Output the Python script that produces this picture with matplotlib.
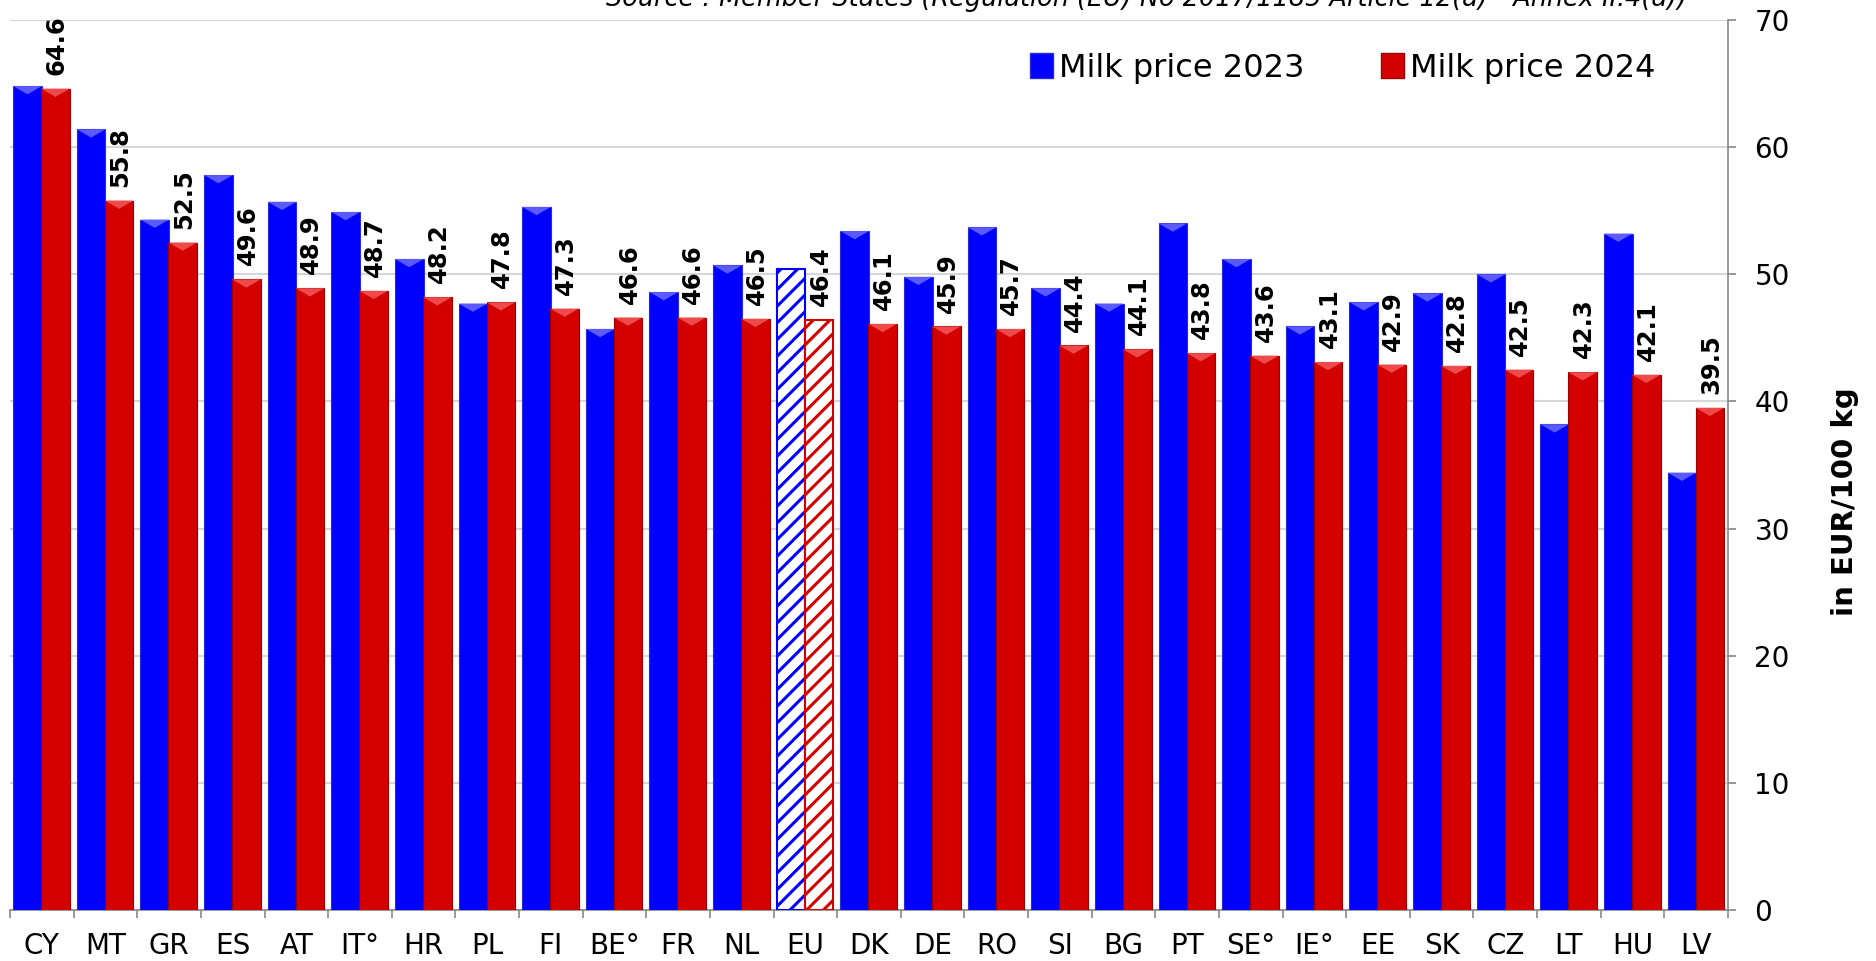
import matplotlib.pyplot as plt
from matplotlib.patches import Patch, Polygon
import numpy as np

# Data (EUR/100 kg)
countries = ["CY", "MT", "GR", "ES", "AT", "IT°", "HR", "PL", "FI", "BE°", "FR", "NL", "EU",
             "DK", "DE", "RO", "SI", "BG", "PT", "SE°", "IE°", "EE", "SK", "CZ", "LT", "HU", "LV"]
price_2023 = [64.8, 61.4, 54.3, 57.8, 55.7, 54.9, 51.2, 47.7, 55.3, 45.7, 48.6, 50.7, 50.4,
              53.4, 49.8, 53.7, 48.9, 47.7, 54.0, 51.2, 45.9, 47.8, 48.5, 50.0, 38.2, 53.2, 34.4]
price_2024 = [64.6, 55.8, 52.5, 49.6, 48.9, 48.7, 48.2, 47.8, 47.3, 46.6, 46.6, 46.5, 46.4,
              46.1, 45.9, 45.7, 44.4, 44.1, 43.8, 43.6, 43.1, 42.9, 42.8, 42.5, 42.3, 42.1, 39.5]
eu_label = "EU"
source_txt = "Source : Member States (Regulation (EU) No 2017/1185 Article 12(a) - Annex II.4(a))"

BLUE = "#0000ff"
RED = "#d40000"

plt.rcParams["font.family"] = "DejaVu Sans"
plt.rcParams["hatch.linewidth"] = 2.2

fig = plt.figure(figsize=(18.76, 9.61), dpi=100)
ax = fig.add_axes([10 / 1876, 51 / 961, 1718 / 1876, 890 / 961])

x = np.arange(len(countries))
w = 0.45
eu_idx = countries.index(eu_label)

def add_bevel(bar, color):
    # small lighter "V" at the top of each bar, like the 3D effect of the original
    x0 = bar.get_x()
    x1 = x0 + bar.get_width()
    top = bar.get_height()
    tri = Polygon([[x0, top], [x1, top], [(x0 + x1) / 2, top - 0.65]], closed=True,
                  facecolor=color, edgecolor="none", zorder=bar.get_zorder() + 0.1)
    ax.add_patch(tri)

bars_b = ax.bar(x - 0.225, price_2023, w, color=BLUE, edgecolor="#2a2ad8", linewidth=0.8, zorder=3)
bars_r = ax.bar(x + 0.215, price_2024, w, color=RED, edgecolor="#9a0000", linewidth=0.8, zorder=3)

for i, (bb, br) in enumerate(zip(bars_b, bars_r)):
    if i == eu_idx:
        bb.set_facecolor("white")
        bb.set_edgecolor(BLUE)
        bb.set_hatch("//")
        bb.set_linewidth(1.5)
        br.set_facecolor("white")
        br.set_edgecolor(RED)
        br.set_hatch("//")
        br.set_linewidth(1.5)
    else:
        add_bevel(bb, "#5a5aff")
        add_bevel(br, "#ee4a4a")

# value labels above the 2024 bars
for br, v in zip(bars_r, price_2024):
    ax.annotate("%.1f" % v, (br.get_x() + br.get_width() / 2, v), xytext=(1, 10),
                textcoords="offset points", rotation=90, ha="center", va="bottom",
                fontsize=17.5, fontweight="bold", annotation_clip=False)

ax.set_xlim(-0.5, len(countries) - 0.5)
ax.set_ylim(0, 70)
ax.set_yticks(range(0, 71, 10))
ax.yaxis.tick_right()
ax.tick_params(axis="y", which="major", direction="out", length=6, width=1.2, color="#888888",
               labelsize=20, pad=13)

ax.set_xticks(x)
ax.set_xticklabels(countries)
ax.set_xticks(np.arange(-0.5, len(countries)), minor=True)
ax.tick_params(axis="x", which="major", length=0, labelsize=20, pad=16)
ax.tick_params(axis="x", which="minor", direction="out", length=6, width=1.2, color="#888888")

ax.grid(axis="y", color="#d6d6d6", linewidth=1.5, zorder=0)
ax.set_axisbelow(True)
for s in ["top", "left"]:
    ax.spines[s].set_visible(False)
for s in ["right", "bottom"]:
    ax.spines[s].set_color("#888888")
    ax.spines[s].set_linewidth(1.2)

fig.text(1845 / 1876, 1 - 502 / 961, "in EUR/100 kg", rotation=90, ha="center", va="center",
         fontsize=21, fontweight="bold")

fig.text(1146 / 1876, 1 - 6 / 961, source_txt, ha="center", va="baseline",
         fontsize=18.4, style="italic")

handles = [Patch(facecolor=BLUE, edgecolor="#2a2ad8"), Patch(facecolor=RED, edgecolor="#9a0000")]
fig.legend(handles, ["Milk price 2023", "Milk price 2024"], loc="center",
           bbox_to_anchor=(1343 / 1876, 1 - 68 / 961), ncol=2, frameon=False, fontsize=23,
           handlelength=0.7, handleheight=0.8, handletextpad=0.2, columnspacing=2.4, borderpad=0)

fig.savefig("out.png", dpi=100)
